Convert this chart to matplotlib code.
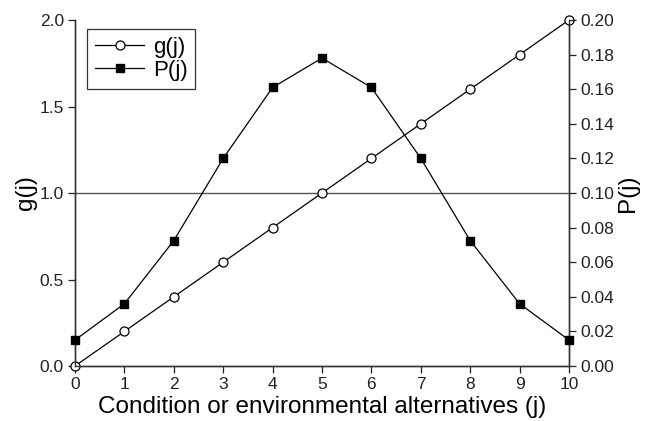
import numpy as np
import matplotlib.pyplot as plt

plt.rcParams['font.family'] = ['Liberation Sans', 'DejaVu Sans']

j = [0, 1, 2, 3, 4, 5, 6, 7, 8, 9, 10]
g_vals = [0.0, 0.2, 0.4, 0.6, 0.8, 1.0, 1.2, 1.4, 1.6, 1.8, 2.0]
p_vals = [0.015, 0.036, 0.0725, 0.12, 0.161, 0.178, 0.161, 0.12, 0.0725, 0.036, 0.015]

fig = plt.figure(figsize=(6.46, 4.21), dpi=100)
ax1 = fig.add_axes([0.1161, 0.1306, 0.7647, 0.8219])
ax2 = ax1.twinx()

ax1.axhline(1.0, color='#555555', lw=1.0, zorder=1)
l1, = ax1.plot(j, g_vals, '-o', color='black', lw=0.9, markersize=6.5,
               markerfacecolor='white', markeredgecolor='black', markeredgewidth=0.9,
               label='g(j)', clip_on=False, zorder=3)
l2, = ax2.plot(j, p_vals, '-s', color='black', lw=0.9, markersize=6,
               markerfacecolor='black', label='P(j)', clip_on=False, zorder=3)

ax1.set_xlim(0, 10)
ax1.set_ylim(0, 2.0)
ax2.set_ylim(0, 0.20)
ax1.set_xticks(range(0, 11))
ax1.set_yticks([0.0, 0.5, 1.0, 1.5, 2.0])
ax1.set_yticklabels(['0.0', '0.5', '1.0', '1.5', '2.0'])
ax2.set_yticks(np.arange(0, 0.201, 0.02))
ax2.set_yticklabels(['%.2f' % v for v in np.arange(0, 0.201, 0.02)])

for ax in (ax1, ax2):
    ax.spines['top'].set_visible(False)
    for s in ('left', 'right', 'bottom'):
        ax.spines[s].set_color('#333333')
        ax.spines[s].set_linewidth(1.0)
    ax.tick_params(direction='out', length=5, width=0.9, labelsize=12.5,
                   colors='#222222', pad=3)

ax1.set_xlabel('Condition or environmental alternatives (j)', fontsize=17.5, labelpad=3)
ax1.set_ylabel('g(j)', fontsize=17.5, labelpad=2)
ax2.set_ylabel('P(j)', fontsize=17.5, labelpad=2)

leg = ax1.legend([l1, l2], ['g(j)', 'P(j)'], loc='upper left',
                 bbox_to_anchor=(0.025, 0.974), fontsize=16, frameon=True,
                 fancybox=False, edgecolor='black', handlelength=2.2,
                 borderpad=0.35, labelspacing=0.1, handletextpad=0.4,
                 borderaxespad=0)
leg.get_frame().set_linewidth(0.9)

fig.savefig('out.png', dpi=100)
